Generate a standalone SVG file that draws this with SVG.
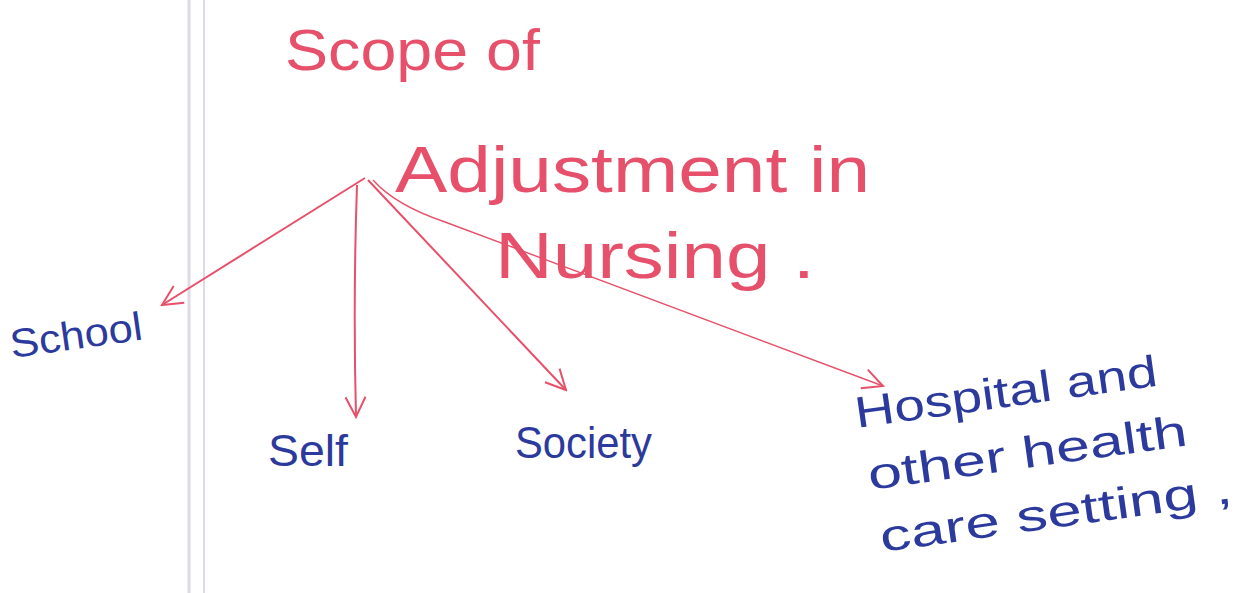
<svg xmlns="http://www.w3.org/2000/svg" width="1241" height="593" viewBox="0 0 1241 593">
<style>
.red{fill:#e6506a;font-family:"Liberation Sans",Arial,sans-serif}
.blue{fill:#2b3a9c;font-family:"Liberation Sans",Arial,sans-serif}
.con{stroke:#e8506a;stroke-width:2;fill:none;marker-end:url(#ahL)}
.margin{stroke:#dedbe4;fill:none}
</style>
<defs>
<marker id="ahL" viewBox="0 0 24 24" refX="22" refY="12" markerWidth="24" markerHeight="24" markerUnits="userSpaceOnUse" orient="auto">
<path d="M2,2 L22,12 L2,22" fill="none" stroke="#e8506a" stroke-width="2"/>
</marker>
</defs>
<rect width="1241" height="593" fill="#ffffff"/>
<g id="margin">
<line class="margin" x1="189" y1="0" x2="189" y2="593" stroke-width="3"/>
<line class="margin" x1="204" y1="0" x2="204" y2="593" stroke-width="2"/>
</g>
<g id="connectors">
<path class="con" d="M365,178 L162,305"/>
<path class="con" d="M357,185 Q353,300 356,417"/>
<path class="con" d="M368,180 L566,390"/>
<path class="con" style="stroke-width:1.4" d="M373,180 Q395,205 445,222 L883,386"/>
</g>
<g id="root">
<text class="red" x="285" y="70" font-size="58" textLength="255" lengthAdjust="spacingAndGlyphs">Scope of</text>
<text class="red" x="395" y="192" font-size="64" textLength="475" lengthAdjust="spacingAndGlyphs">Adjustment in</text>
<text class="red" x="495" y="278" font-size="64" textLength="320" lengthAdjust="spacingAndGlyphs">Nursing .</text>
</g>
<g id="school">
<text class="blue" x="12" y="358" font-size="40" textLength="133" lengthAdjust="spacingAndGlyphs" transform="rotate(-8 12 358)">School</text>
</g>
<g id="self">
<text class="blue" x="268" y="466" font-size="44" textLength="80" lengthAdjust="spacingAndGlyphs">Self</text>
</g>
<g id="society">
<text class="blue" x="515" y="458" font-size="44" textLength="137" lengthAdjust="spacingAndGlyphs">Society</text>
</g>
<g id="hospital">
<text class="blue" x="857" y="428" font-size="44" textLength="305" lengthAdjust="spacingAndGlyphs" transform="rotate(-8 857 428)">Hospital and</text>
<text class="blue" x="870" y="490" font-size="44" textLength="322" lengthAdjust="spacingAndGlyphs" transform="rotate(-8 870 490)">other health</text>
<text class="blue" x="882" y="552" font-size="44" textLength="355" lengthAdjust="spacingAndGlyphs" transform="rotate(-8 882 552)">care setting ,</text>
</g>
</svg>
